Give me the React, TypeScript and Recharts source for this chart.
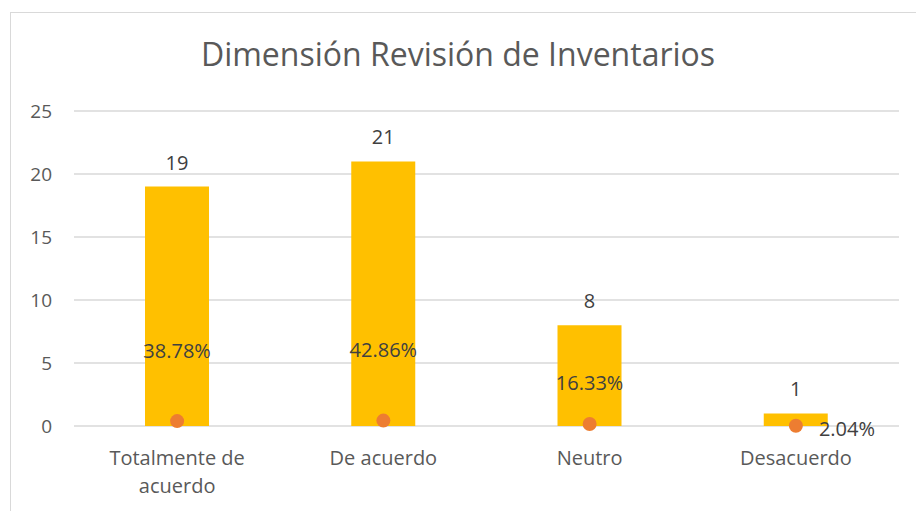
import React from 'react';
import { ComposedChart, Bar, Line, XAxis, YAxis, CartesianGrid, LabelList } from 'recharts';

const categories = ['Totalmente de acuerdo', 'De acuerdo', 'Neutro', 'Desacuerdo'];
const counts = [19, 21, 8, 1];
const shares = [0.3878, 0.4286, 0.1633, 0.0204];
const yTicks = [0, 5, 10, 15, 20, 25];

// manual offsets of the percentage labels, as placed in the original sheet
const pctLabelOffsets = [
  { dx: 0, dy: -71, anchor: 'middle' },
  { dx: 0, dy: -71, anchor: 'middle' },
  { dx: 0, dy: -41, anchor: 'middle' },
  { dx: 23, dy: 3, anchor: 'start' },
];

const data = categories.map((name, i) => ({ name, count: counts[i], share: shares[i] }));

const FONT = '"Open Sans", sans-serif';

function wrapLabel(text: string, max = 14): string[] {
  const words = text.split(' ');
  const lines: string[] = [];
  let cur = '';
  for (const w of words) {
    const next = cur ? cur + ' ' + w : w;
    if (next.length > max && cur) {
      lines.push(cur);
      cur = w;
    } else cur = next;
  }
  if (cur) lines.push(cur);
  return lines;
}

function CategoryTick({ x, y, payload }: any) {
  const lines = wrapLabel(payload.value);
  return (
    <text x={x} y={y} textAnchor="middle" fill="#595959" style={{ fontFamily: FONT, fontSize: 20 }}>
      {lines.map((l, i) => (
        <tspan key={i} x={x} dy={i === 0 ? 31 : 28}>{l}</tspan>
      ))}
    </text>
  );
}

function PctLabel({ x, y, value, index }: any) {
  const o = pctLabelOffsets[index];
  return (
    <text
      x={x + o.dx}
      y={y + o.dy}
      textAnchor={o.anchor}
      dominantBaseline="central"
      fill="#404040"
      style={{ fontFamily: FONT, fontSize: 20 }}
    >
      {(value * 100).toFixed(2)}%
    </text>
  );
}

export default function App() {
  return (
    <div style={{ position: 'fixed', left: 0, top: 0, width: 916, height: 511, background: '#fff', overflow: 'hidden' }}>
      <div style={{ position: 'absolute', left: 10, top: 12, width: 1000, height: 600, border: '1px solid #D9D9D9' }} />
      <div style={{
        position: 'absolute', left: 0, top: 34, width: 916, textAlign: 'center',
        fontFamily: FONT, fontSize: 32, color: '#595959', lineHeight: '40px',
      }}>
        Dimensión Revisión de Inventarios
      </div>
      <div style={{ position: 'absolute', left: 0, top: 0 }}>
        <ComposedChart width={916} height={511} data={data} margin={{ top: 111, right: 17, left: 0, bottom: 0 }}>
          <CartesianGrid vertical={false} stroke="#D9D9D9" strokeWidth={1.5} />
          <XAxis
            dataKey="name"
            axisLine={false}
            tickLine={false}
            height={85}
            tick={<CategoryTick />}
            interval={0}
          />
          <YAxis
            width={74}
            domain={[0, 25]}
            ticks={yTicks}
            axisLine={false}
            tickLine={false}
            tickMargin={16}
            tick={{ fill: '#595959', fontSize: 19, fontFamily: FONT }}
          />
          <Bar dataKey="count" fill="#FFC000" barSize={64} isAnimationActive={false}>
            <LabelList
              dataKey="count"
              position="top"
              offset={17}
              style={{ fill: '#404040', fontSize: 20, fontFamily: FONT }}
            />
          </Bar>
          <Line
            dataKey="share"
            stroke="none"
            dot={{ r: 7, fill: '#ED7D31', stroke: 'none' }}
            activeDot={false}
            isAnimationActive={false}
          >
            <LabelList dataKey="share" content={<PctLabel />} />
          </Line>
        </ComposedChart>
      </div>
    </div>
  );
}
